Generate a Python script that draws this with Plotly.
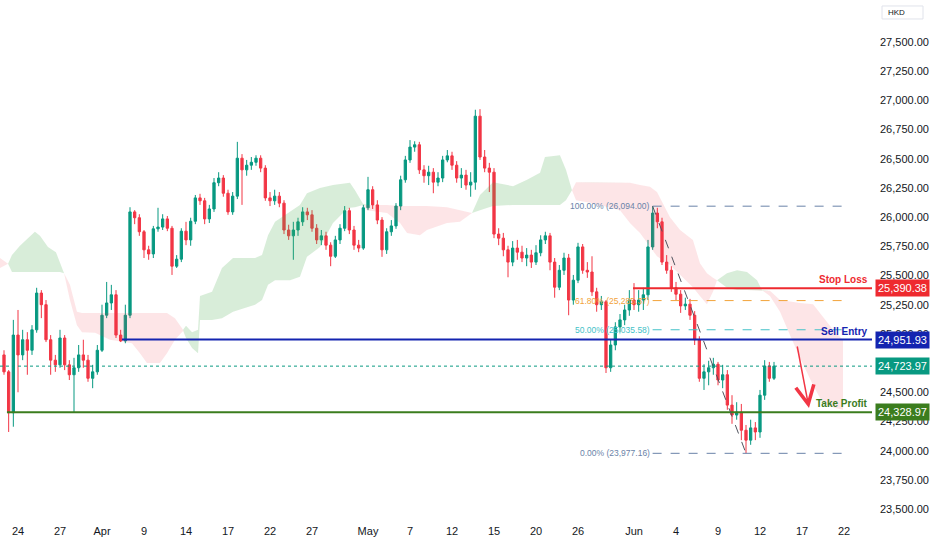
import plotly.graph_objects as go

# ---- price bars (HK50, 3 bars per trading day, day 0 = Mon 24 Mar) ----
bar_start = -1.0
bar_step = 1 / 3

opens = [
    24820, 24675, 24325, 24990, 24820, 24950, 24860, 25035, 25350, 25250,
    24950, 24775, 24735, 24965, 24735, 24650, 24710, 24820, 24775, 24620,
    24675, 24860, 25160, 25265, 25335, 24990, 24940, 25160, 26045, 25995,
    25875, 25720, 25685, 25900, 25915, 25985, 25905, 25580, 25640, 25880,
    25805, 25965, 26165, 26140, 25985, 26070, 26295, 26335, 26205, 26045,
    26180, 26505, 26405, 26445, 26470, 26505, 26420, 26165, 26140, 26180,
    26120, 25890, 25840, 25890, 25960, 26045, 26020, 25905, 25805, 25840,
    25760, 25665, 25805, 25905, 26055, 25890, 25760, 25735, 26080, 26235,
    26105, 25975, 25720, 25875, 25925, 26095, 26320, 26490, 26600, 26620,
    26405, 26355, 26385, 26300, 26335, 26490, 26525, 26445, 26335, 26360,
    26275, 26300, 26865, 26515, 26420, 26385, 25855, 25820, 25720, 25615,
    25735, 25700, 25650, 25675, 25615, 25695, 25805, 25840, 25615, 25400,
    25545, 25650, 25290, 25460, 25745, 25545, 25530, 25360, 25250, 25275,
    24710, 24905, 25060, 25120, 25205, 25290, 25250, 25290, 25335, 25745,
    26035, 25960, 25615, 25545, 25395, 25340, 25240, 25255, 25160, 24950,
    24620, 24675, 24710, 24740, 24605, 24650, 24390, 24305, 24330, 24175,
    24090, 24195, 24160, 24475, 24725, 24620,
]
highs = [
    24860, 24690, 25120, 25205, 25035, 25015, 25075, 25395, 25375, 25290,
    24990, 24820, 25035, 24990, 24775, 24795, 24905, 24950, 24820, 24735,
    24905, 25250, 25445, 25420, 25375, 25035, 25250, 26085, 26060, 26025,
    25890, 25755, 25925, 26080, 26025, 26010, 25925, 25675, 25905, 25960,
    25995, 26190, 26200, 26165, 26105, 26335, 26385, 26360, 26235, 26215,
    26645, 26540, 26490, 26515, 26530, 26530, 26445, 26215, 26235, 26215,
    26145, 25935, 25960, 25995, 26085, 26080, 26060, 25940, 25890, 25875,
    25785, 25840, 25940, 26095, 26080, 25925, 25805, 26105, 26345, 26265,
    26145, 26000, 25905, 25975, 26120, 26355, 26525, 26660, 26650, 26645,
    26445, 26440, 26420, 26385, 26525, 26575, 26560, 26480, 26420, 26405,
    26385, 26920, 26925, 26575, 26465, 26420, 25905, 25865, 25755, 25795,
    25805, 25755, 25735, 25720, 25760, 25845, 25875, 25865, 25650, 25590,
    25695, 25685, 25505, 25780, 25770, 25615, 25665, 25395, 25325, 25290,
    24950, 25100, 25170, 25250, 25375, 25435, 25375, 25395, 25805, 26094.00,
    26080, 25995, 25675, 25580, 25445, 25375, 25310, 25300, 25195, 24980,
    24740, 24770, 24795, 24760, 24735, 24690, 24475, 24415, 24400, 24220,
    24265, 24245, 24520, 24775, 24760, 24760,
]
lows = [
    24650, 24160, 24205, 24500, 24775, 24650, 24820, 25010, 25135, 24930,
    24650, 24675, 24710, 24690, 24605, 24325, 24675, 24710, 24590, 24535,
    24650, 24845, 25135, 25205, 24965, 24930, 24920, 25135, 25940, 25840,
    25650, 25635, 25650, 25875, 25890, 25880, 25505, 25565, 25615, 25760,
    25755, 25940, 26105, 25940, 25950, 26045, 26265, 26175, 26020, 26020,
    26155, 26105, 26355, 26405, 26440, 26385, 26140, 26095, 26105, 26085,
    25855, 25805, 25635, 25840, 25925, 25975, 25875, 25770, 25760, 25720,
    25580, 25650, 25770, 25880, 25855, 25720, 25700, 25720, 26060, 26070,
    25940, 25660, 25685, 25840, 25900, 26060, 26295, 26465, 26560, 26370,
    26295, 26275, 26205, 26265, 26300, 26470, 26405, 26295, 26250, 26235,
    26175, 26235, 26490, 26385, 26215, 25820, 25760, 25665, 25485, 25580,
    25635, 25615, 25580, 25565, 25590, 25665, 25770, 25545, 25310, 25375,
    25505, 25160, 25250, 25435, 25515, 25480, 25325, 25190, 25205, 24665,
    24675, 24860, 25015, 25075, 25155, 25205, 25190, 25205, 25290, 25720,
    25905, 25590, 25515, 25360, 25290, 25180, 25205, 25120, 24905, 24590,
    24520, 24560, 24650, 24560, 24535, 24350, 24230, 24265, 24090, 23977.16,
    24050, 24090, 24110, 24435, 24590, 24605,
]
closes = [
    24675, 24325, 24990, 24820, 24950, 24860, 25035, 25350, 25250, 24950,
    24775, 24735, 24965, 24735, 24650, 24710, 24820, 24775, 24620, 24675,
    24860, 25160, 25265, 25335, 24990, 24940, 25160, 26045, 25995, 25875,
    25720, 25685, 25900, 25915, 25985, 25905, 25580, 25640, 25880, 25805,
    25965, 26165, 26140, 25985, 26070, 26295, 26335, 26205, 26045, 26180,
    26505, 26405, 26445, 26470, 26505, 26420, 26165, 26140, 26180, 26120,
    25890, 25840, 25890, 25960, 26045, 26020, 25905, 25805, 25840, 25760,
    25665, 25805, 25905, 26055, 25890, 25760, 25735, 26080, 26235, 26105,
    25975, 25720, 25875, 25925, 26095, 26320, 26490, 26600, 26620, 26405,
    26355, 26385, 26300, 26335, 26490, 26525, 26445, 26335, 26360, 26275,
    26300, 26865, 26515, 26420, 26385, 25855, 25820, 25720, 25615, 25735,
    25700, 25650, 25675, 25615, 25695, 25805, 25840, 25615, 25400, 25545,
    25650, 25290, 25460, 25745, 25545, 25530, 25360, 25250, 25275, 24710,
    24905, 25060, 25120, 25205, 25290, 25250, 25290, 25335, 25745, 26035,
    25960, 25615, 25545, 25395, 25340, 25240, 25255, 25160, 24950, 24620,
    24675, 24710, 24740, 24605, 24650, 24390, 24305, 24330, 24175, 24090,
    24195, 24160, 24475, 24725, 24620, 24723.97,
]
bar_x = [bar_start + i * bar_step for i in range(len(closes))]

# ---- ichimoku cloud (leading spans, already shifted forward) ----
cloud_x = [
    -1.29, -0.71, -0.43, 0.14, 0.71, 1.21, 1.57, 2.14, 2.71, 3.0,
    3.29, 3.71, 4.21, 4.57, 5.5, 6.57, 8.14, 8.71, 9.21, 10.14,
    10.64, 11.21, 11.79, 12.0, 12.43, 12.86, 13.0, 13.86, 14.57, 15.36,
    16.93, 17.43, 17.86, 18.36, 19.43, 20.14, 20.64, 21.57, 22.5, 23.21,
    23.71, 24.07, 24.64, 24.93, 26.36, 27.29, 27.79, 28.71, 29.21, 30.64,
    31.57, 32.07, 32.43, 33.0, 33.93, 35.36, 36.36, 37.29, 37.64, 38.71,
    39.14, 39.57, 39.86, 41.07, 43.0, 43.71, 44.43, 45.14, 45.64, 46.57,
    47.29, 48.21, 48.71, 49.21, 49.64, 49.93, 50.64, 51.36, 52.07, 52.79,
    53.14, 53.71, 54.43, 55.14, 55.86, 56.79, 57.29, 57.79, 58.36, 58.93,
]
span_a = [
    25565, 25600, 25675, 25755, 25820, 25875, 25840, 25745, 25700, 25615,
    25520, 25290, 25075, 25015, 25010, 24950, 24920, 24835, 24750, 24750,
    24835, 24950, 25025, 25070, 25015, 25035, 25325, 25360, 25565, 25650,
    25650, 25675, 25845, 25960, 26045, 26105, 26205, 26250, 26275, 26285,
    26295, 26230, 26115, 26060, 26035, 25950, 25865, 25845, 25890, 25950,
    25960, 26000, 26035, 26190, 26300, 26265, 26320, 26380, 26515, 26530,
    26405, 26230, 26145, 26120, 26060, 25950, 25865, 25745, 25665, 25590,
    25505, 25400, 25325, 25255, 25360, 25460, 25520, 25545, 25530, 25460,
    25375, 25325, 25190, 24990, 24795, 24560, 24450, 24390, 24365, 24350,
]
span_b = [
    25650, 25600, 25530, 25530, 25530, 25530, 25530, 25530, 25530, 25530,
    25520, 25420, 25190, 25180, 25180, 25180, 25180, 25180, 25180, 25180,
    25180, 25135, 25035, 24965, 24880, 24835, 25120, 25120, 25135, 25190,
    25250, 25290, 25420, 25460, 25460, 25490, 25660, 25745, 25950, 26035,
    26080, 26085, 26105, 26105, 26105, 26095, 26095, 26095, 26095, 26085,
    26060, 26045, 26035, 26060, 26095, 26105, 26105, 26105, 26105, 26105,
    26145, 26230, 26300, 26300, 26300, 26295, 26275, 26260, 26215, 26000,
    25890, 25805, 25605, 25520, 25480, 25460, 25395, 25375, 25375, 25375,
    25375, 25370, 25290, 25275, 25265, 25255, 25180, 25095, 25015, 24950,
]

# ---- drawn levels ----
stop_loss = 25390.38
sell_entry = 24951.93
take_profit = 24328.97
last_price = 24723.97
level_start = {"sl": 43.93, "se": 7.43, "tp": -0.79}

fib_high = 26094.00
fib_low = 23977.16
fib_high_x = 45.33
fib_low_x = 52.0
fib_end_x = 59.07
fib_levels = [1.0, 0.618, 0.5, 0.0]
fib_colors = ["#6a83a8", "#f2a33a", "#45c2c8", "#6a83a8"]

arrow_from = (55.64, 24905)
arrow_to = (56.5, 24365)

tick_days = [0, 3, 6, 9, 12, 15, 18, 21, 25, 28, 31, 34, 37, 40, 44, 47, 50, 53, 56, 59]
tick_labels = ["24", "27", "Apr", "9", "14", "17", "22", "27", "May", "7",
               "12", "15", "20", "26", "Jun", "4", "9", "12", "17", "22"]
# 24,750 sits fully under the last-price tag, so it is not listed
price_ticks = [p for p in range(23500, 27501, 250) if p != 24750]

x_range = [-1.286, 61.0]
y_range = [23406, 27860]

GREEN = "#089981"
RED = "#f23645"
SL_RED = "#ee2a2f"
SE_BLUE = "#1424b0"
TP_GREEN = "#3b7d1e"

fig = go.Figure()

# cloud: green where span A is above span B, red where below
upper = [max(a, b) for a, b in zip(span_a, span_b)]
lower = [min(a, b) for a, b in zip(span_a, span_b)]
for edge, col in ((upper, "rgba(76,175,80,0.22)"), (lower, "rgba(242,54,69,0.13)")):
    fig.add_trace(go.Scatter(x=cloud_x, y=span_b, mode="lines", line=dict(width=0),
                             hoverinfo="skip", showlegend=False))
    fig.add_trace(go.Scatter(x=cloud_x, y=edge, mode="lines", line=dict(width=0),
                             fill="tonexty", fillcolor=col, hoverinfo="skip", showlegend=False))

fig.add_trace(go.Candlestick(
    x=bar_x, open=opens, high=highs, low=lows, close=closes,
    increasing=dict(line=dict(color=GREEN, width=1), fillcolor=GREEN),
    decreasing=dict(line=dict(color=RED, width=1), fillcolor=RED),
    whiskerwidth=0, showlegend=False, hoverinfo="skip",
))

# horizontal trade levels
for key, val, col in (("tp", take_profit, TP_GREEN), ("se", sell_entry, SE_BLUE), ("sl", stop_loss, SL_RED)):
    fig.add_shape(type="line", xref="x", yref="y", x0=level_start[key], x1=x_range[1],
                  y0=val, y1=val, line=dict(color=col, width=2))

fig.add_shape(type="line", xref="paper", yref="y", x0=0, x1=1, y0=last_price, y1=last_price,
              line=dict(color=GREEN, width=1, dash="dot"))

# fibonacci retracement
for lvl, col in zip(fib_levels, fib_colors):
    val = fib_low + lvl * (fib_high - fib_low)
    fig.add_shape(type="line", xref="x", yref="y", x0=fib_high_x, x1=fib_end_x, y0=val, y1=val,
                  line=dict(color=col, width=1, dash="dash"))
    fig.add_annotation(x=fib_high_x, y=val, xref="x", yref="y", xanchor="right", xshift=-1,
                       yanchor="middle", showarrow=False,
                       text=f"{lvl * 100:.2f}% ({val:,.2f})", font=dict(size=8.5, color=col))
fig.add_shape(type="line", xref="x", yref="y", x0=fib_high_x, y0=fib_high, x1=fib_low_x, y1=fib_low,
              line=dict(color="#50535e", width=1, dash="dash"))

# arrow towards target
fig.add_annotation(x=arrow_to[0], y=arrow_to[1], ax=arrow_from[0], ay=arrow_from[1],
                   xref="x", yref="y", axref="x", ayref="y", text="", showarrow=True,
                   arrowhead=5, arrowsize=2.4, arrowwidth=1.5, arrowcolor=RED)

# level captions and price tags
for name, val, col in (("Stop Loss", stop_loss, SL_RED), ("Sell Entry", sell_entry, SE_BLUE),
                       ("Take Profit", take_profit, TP_GREEN)):
    fig.add_annotation(x=1, y=val, xref="paper", yref="y", xanchor="right", yanchor="bottom",
                       xshift=-2, yshift=1, showarrow=False, text=f"<b>{name}</b>",
                       font=dict(size=10, color=col))
for val, col in ((stop_loss, SL_RED), (sell_entry, SE_BLUE), (last_price, GREEN), (take_profit, TP_GREEN)):
    fig.add_annotation(x=1, y=val, xref="paper", yref="y", xanchor="left", yanchor="middle",
                       xshift=3, showarrow=False, text=f"{val:,.2f}", bgcolor=col, borderpad=2,
                       font=dict(size=11, color="white"))

# currency badge
fig.add_shape(type="rect", xref="paper", yref="paper", x0=1.0115, x1=1.0585, y0=0.9635, y1=0.9885,
              line=dict(color="#e0e3eb", width=1), fillcolor="white")
fig.add_annotation(x=1.016, y=0.976, xref="paper", yref="paper", xanchor="left", yanchor="middle",
                   showarrow=False, text="HKD", font=dict(size=8, color="#131722"))

fig.update_layout(
    width=932, height=550,
    margin=dict(l=0, r=60, t=0, b=30),
    paper_bgcolor="white", plot_bgcolor="white",
    showlegend=False,
    font=dict(family="Liberation Sans, Arial, sans-serif", size=11, color="#131722"),
    xaxis=dict(range=x_range, tickvals=tick_days, ticktext=tick_labels, showgrid=False,
               zeroline=False, showline=False, ticks="", rangeslider=dict(visible=False),
               ticklabelstandoff=3),
    yaxis=dict(side="right", range=y_range, tickvals=price_ticks, tickformat=",.2f",
               showgrid=False, zeroline=False, showline=False, ticks="", ticklabelstandoff=7),
)

fig.write_html("out.html", config={"displayModeBar": False},
               post_script="document.body.style.margin='0';")
